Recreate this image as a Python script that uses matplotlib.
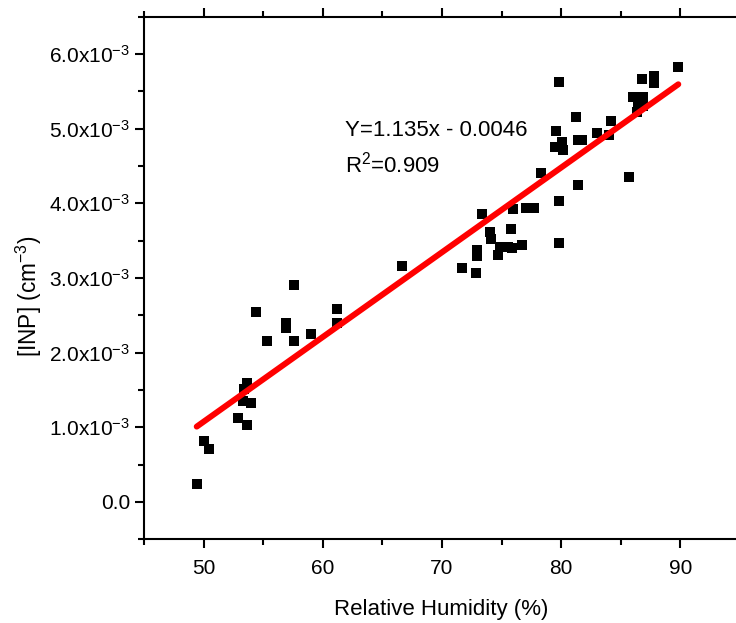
import matplotlib
matplotlib.use('Agg')
import matplotlib.pyplot as plt
import matplotlib.ticker as ticker
import numpy as np

# ── Data ─────────────────────────────────────────────────────────────────────
rh = [49.42, 50.03, 50.48, 52.86, 53.61, 53.61, 53.42, 53.33, 53.95, 54.40,
      55.29, 56.89, 56.89, 57.61, 57.56, 58.98, 61.17, 61.17, 66.62, 71.70,
      72.85, 72.96, 72.96, 73.33, 74.03, 74.08, 74.72, 74.87, 75.51, 75.79,
      75.85, 76.69, 75.98, 77.05, 77.72, 78.30, 79.82, 79.84, 79.54, 79.48,
      80.09, 80.17, 79.79, 81.37, 81.20, 81.43, 81.72, 83.02, 84.17, 84.03,
      85.66, 86.00, 86.89, 86.47, 86.33, 86.89, 86.81, 87.79, 87.79, 89.82]
inp_e3 = [0.24, 0.81, 0.71, 1.13, 1.03, 1.59, 1.51, 1.35, 1.33, 2.55,
          2.16, 2.40, 2.33, 2.16, 2.90, 2.25, 2.59, 2.40, 3.16, 3.14,
          3.07, 3.38, 3.29, 3.86, 3.62, 3.52, 3.31, 3.42, 3.42, 3.65,
          3.40, 3.44, 3.92, 3.94, 3.94, 4.41, 3.47, 4.03, 4.97, 4.75,
          4.82, 4.71, 5.62, 4.24, 5.16, 4.85, 4.85, 4.94, 5.10, 4.92,
          4.35, 5.43, 5.43, 5.34, 5.23, 5.30, 5.67, 5.70, 5.61, 5.83]
slope = 1.135e-4
intercept = -0.0046

x = np.array(rh)
y = np.array(inp_e3) * 1e-3

# ── Style ────────────────────────────────────────────────────────────────────
plt.rcParams.update({
    "font.family": ["Liberation Sans", "DejaVu Sans"],
    "mathtext.fontset": "custom",
    "mathtext.rm": "Liberation Sans",
})

fig = plt.figure(figsize=(7.36, 6.23), dpi=100)
ax = fig.add_axes([0.1957, 0.1344, 0.8043, 0.8388])

ax.scatter(x, y, marker="s", s=52, color="black", linewidths=0, zorder=3)
xf = np.array([x.min(), x.max()])
ax.plot(xf, slope * xf + intercept, color="#ff0000", lw=4.3,
        solid_capstyle="round", zorder=4)

ax.text(61.9, 4.97e-3, "Y=1.135x - 0.0046", fontsize=16, va="center")
ax.text(61.9, 4.52e-3, r"R$^{2}$=0.909", fontsize=16, va="center")

ax.set_xlim(45, 94.66)
ax.set_ylim(-0.5e-3, 6.5e-3)
ax.xaxis.set_major_locator(ticker.MultipleLocator(10))
ax.xaxis.set_minor_locator(ticker.MultipleLocator(5))
ax.yaxis.set_major_locator(ticker.MultipleLocator(1e-3))
ax.yaxis.set_minor_locator(ticker.MultipleLocator(0.5e-3))

def yfmt(v, _):
    if abs(v) < 1e-9:
        return "0.0"
    return r"$\mathregular{%.1fx10^{-3}}$" % (v * 1e3)

ax.yaxis.set_major_formatter(ticker.FuncFormatter(yfmt))

ax.tick_params(which="both", direction="out", width=1.5, labelsize=15,
               top=True, right=False, labeltop=False)
ax.tick_params(which="major", length=6.5)
ax.tick_params(which="minor", length=4.5)
ax.tick_params(axis="x", which="major", pad=8)

for side in ("left", "bottom", "top"):
    ax.spines[side].set_linewidth(1.5)
ax.spines["right"].set_visible(False)

ax.set_xlabel("Relative Humidity (%)", fontsize=16, va="top")
ax.xaxis.set_label_coords(0.5025, -0.114)
ax.set_ylabel(r"[INP] (cm$^{-3}$)", fontsize=16.3)
ax.yaxis.set_label_coords(-0.169, 0.464)

fig.savefig("out.png", dpi=100, facecolor="white")
